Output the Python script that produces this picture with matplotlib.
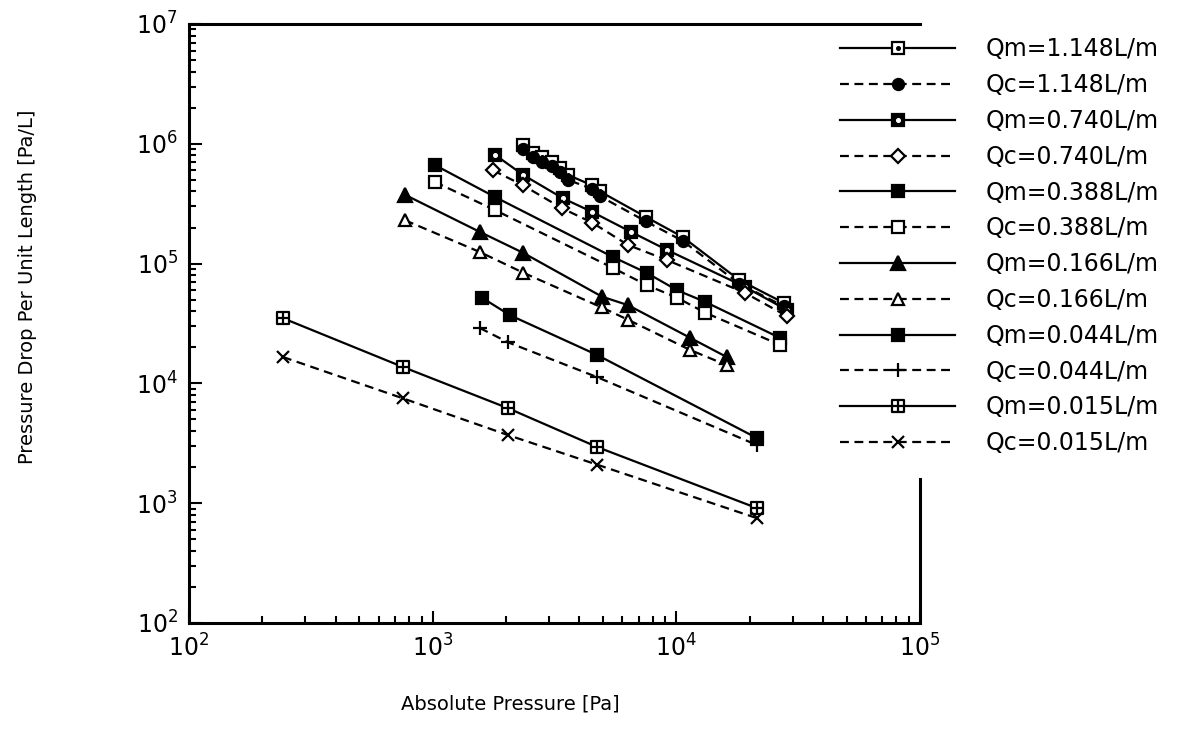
import numpy as np
import matplotlib
matplotlib.use("Agg")
import matplotlib.pyplot as plt
from matplotlib.path import Path
from matplotlib.ticker import LogLocator, NullFormatter

# ---- data (Pa, Pa/L) ----
x_qm1148 = [2350, 2580, 2810, 3090, 3330, 3590, 4510, 4860, 7500, 10600, 18100, 27600]
y_qm1148 = [9.8e5, 8.4e5, 7.8e5, 7.0e5, 6.3e5, 5.5e5, 4.5e5, 4.0e5, 2.45e5, 1.67e5, 7.3e4, 4.7e4]
x_qc1148 = [2350, 2580, 2810, 3090, 3330, 3590, 4510, 4860, 7500, 10600, 18100, 27600]
y_qc1148 = [9.0e5, 7.7e5, 7.1e5, 6.5e5, 5.8e5, 5.0e5, 4.2e5, 3.65e5, 2.25e5, 1.55e5, 6.8e4, 4.4e4]

x_qm0740 = [1800, 2350, 3430, 4510, 6510, 9150, 19100, 28400]
y_qm0740 = [8.1e5, 5.5e5, 3.5e5, 2.7e5, 1.84e5, 1.3e5, 6.4e4, 4.1e4]
x_qc0740 = [1770, 2350, 3390, 4510, 6330, 9150, 19100, 28400]
y_qc0740 = [6.0e5, 4.5e5, 2.9e5, 2.2e5, 1.43e5, 1.07e5, 5.7e4, 3.65e4]

x_0388 = [1020, 1800, 5490, 7570, 10060, 13100, 26600]
y_qm0388 = [6.65e5, 3.6e5, 1.135e5, 8.35e4, 6.0e4, 4.8e4, 2.4e4]
y_qc0388 = [4.8e5, 2.8e5, 9.2e4, 6.6e4, 5.2e4, 3.9e4, 2.1e4]

x_0166 = [770, 1560, 2350, 4950, 6330, 11400, 16100]
y_qm0166 = [3.75e5, 1.84e5, 1.23e5, 5.3e4, 4.5e4, 2.4e4, 1.66e4]
y_qc0166 = [2.3e5, 1.25e5, 8.4e4, 4.3e4, 3.4e4, 1.9e4, 1.42e4]

x_qm0044 = [1590, 2080, 4720, 21400]
y_qm0044 = [5.2e4, 3.7e4, 1.73e4, 3.5e3]
x_qc0044 = [1560, 2040, 4720, 21400]
y_qc0044 = [2.9e4, 2.2e4, 1.13e4, 3.06e3]

x_0015 = [243, 755, 2040, 4720, 21400]
y_qm0015 = [3.5e4, 1.37e4, 6.2e3, 2.95e3, 910]
y_qc0015 = [1.66e4, 7.5e3, 3.7e3, 2.1e3, 750]

labels = ["Qm=1.148L/m", "Qc=1.148L/m", "Qm=0.740L/m", "Qc=0.740L/m",
          "Qm=0.388L/m", "Qc=0.388L/m", "Qm=0.166L/m", "Qc=0.166L/m",
          "Qm=0.044L/m", "Qc=0.044L/m", "Qm=0.015L/m", "Qc=0.015L/m"]

# square with a cross inside
boxcross = Path(
    [(-1, -1), (1, -1), (1, 1), (-1, 1), (-1, -1), (0, -1), (0, 1), (-1, 0), (1, 0)],
    [Path.MOVETO, Path.LINETO, Path.LINETO, Path.LINETO, Path.CLOSEPOLY,
     Path.MOVETO, Path.LINETO, Path.MOVETO, Path.LINETO],
)

fig = plt.figure(figsize=(11.85, 7.47), dpi=100)
ax = fig.add_axes([0.1595, 0.166, 0.6169, 0.8019])

lw = 1.6
dash = (0, (4, 2.5))


def series(x, y, ls, marker, face, ms=9, dot=None):
    h, = ax.plot(x, y, color="black", linestyle=ls, linewidth=lw, marker=marker,
                 markersize=ms, markerfacecolor=face, markeredgecolor="black",
                 markeredgewidth=1.6)
    if dot is None:
        return h
    d, = ax.plot(x, y, linestyle="none", marker="o", markersize=2.6,
                 markerfacecolor=dot, markeredgecolor=dot)
    return (h, d)


handles = [
    series(x_qm1148, y_qm1148, "-", "s", "white", dot="black"),
    series(x_qc1148, y_qc1148, dash, "o", "black", ms=8),
    series(x_qm0740, y_qm0740, "-", "s", "black", dot="white"),
    series(x_qc0740, y_qc0740, dash, "D", "white", ms=7),
    series(x_0388, y_qm0388, "-", "s", "black"),
    series(x_0388, y_qc0388, dash, "s", "white"),
    series(x_0166, y_qm0166, "-", "^", "black", ms=9.5),
    series(x_0166, y_qc0166, dash, "^", "white", ms=8.5),
    series(x_qm0044, y_qm0044, "-", "s", "black"),
    series(x_qc0044, y_qc0044, dash, "+", "black", ms=10),
    series(x_0015, y_qm0015, "-", boxcross, "white", ms=9),
    series(x_0015, y_qc0015, dash, "x", "black", ms=9),
]

ax.set_xscale("log")
ax.set_yscale("log")
ax.set_xlim(1e2, 1e5)
ax.set_ylim(1e2, 1e7)
ax.xaxis.set_minor_locator(LogLocator(base=10, subs=np.arange(2, 10)))
ax.yaxis.set_minor_locator(LogLocator(base=10, subs=np.arange(2, 10)))
ax.xaxis.set_minor_formatter(NullFormatter())
ax.yaxis.set_minor_formatter(NullFormatter())
ax.tick_params(which="both", direction="in", top=False, right=False, width=1.5)
ax.tick_params(which="major", length=9, labelsize=17, pad=8)
ax.tick_params(which="minor", length=5)
for s in ax.spines.values():
    s.set_linewidth(2.2)
ax.spines["right"].set_bounds(1e2, 1.6e3)

fig.text(0.431, 0.057, "Absolute Pressure [Pa]", fontsize=14, ha="center", va="center")
fig.text(0.023, 0.616, "Pressure Drop Per Unit Length [Pa/L]", fontsize=14,
         rotation=90, ha="center", va="center")

fig.legend(handles, labels, loc="upper left", bbox_to_anchor=(0.709, 0.950),
           frameon=False, fontsize=17, handlelength=4.87, handletextpad=1.27,
           labelspacing=0.50, borderpad=0, borderaxespad=0, numpoints=1)

fig.savefig("out.png", dpi=100)
